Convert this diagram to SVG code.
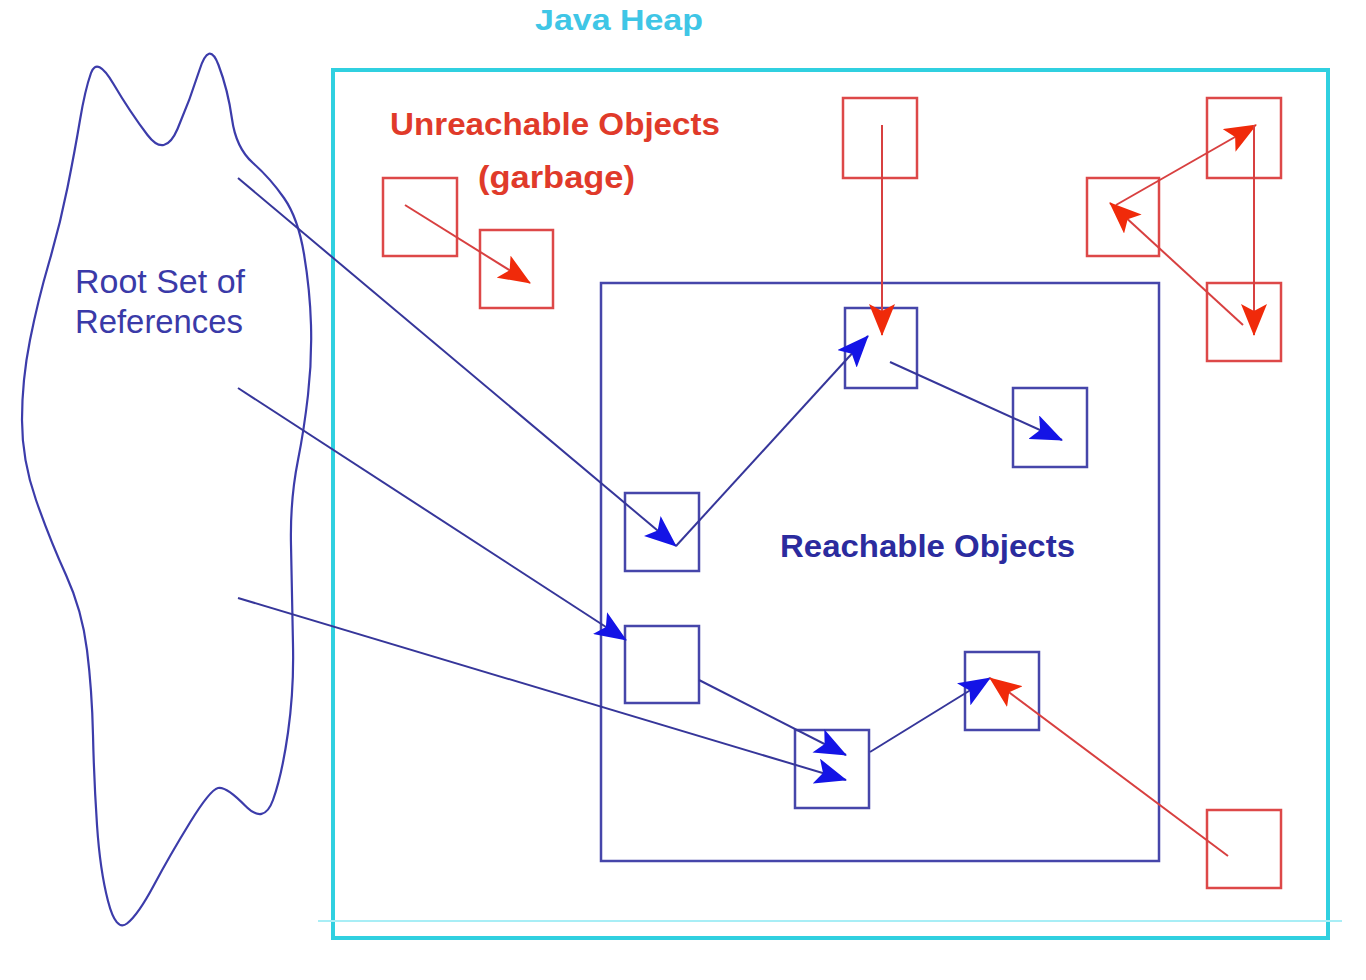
<svg xmlns="http://www.w3.org/2000/svg" width="1366" height="980" viewBox="0 0 1366 980">
<style>
.rbox{fill:none;stroke:#dd4848;stroke-width:2.5}
.bbox{fill:none;stroke:#4646aa;stroke-width:2.5}
.bl{stroke:#36369a;stroke-width:2;fill:none}
.rl{stroke:#d84040;stroke-width:2;fill:none}
.t{font-family:"Liberation Sans",Arial,sans-serif}
</style>
<defs>
<marker id="ab" viewBox="0 0 32 26" refX="31" refY="13" markerWidth="32" markerHeight="26" markerUnits="userSpaceOnUse" orient="auto"><path d="M0,0 L32,13 L0,26 L7,13 z" fill="#1414e6"/></marker>
<marker id="ar" viewBox="0 0 32 26" refX="31" refY="13" markerWidth="32" markerHeight="26" markerUnits="userSpaceOnUse" orient="auto"><path d="M0,0 L32,13 L0,26 L7,13 z" fill="#f02a0a"/></marker>
</defs>
<rect width="1366" height="980" fill="#ffffff"/>

<g id="heap">
<rect x="333" y="70" width="995" height="868" fill="none" stroke="#30d0e0" stroke-width="4"/>
<line x1="318" y1="921" x2="1342" y2="921" stroke="#a8eef6" stroke-width="2"/>
<text class="t" x="535" y="30" font-size="30" font-weight="bold" fill="#3fc6e6" textLength="168" lengthAdjust="spacingAndGlyphs">Java Heap</text>
</g>

<g id="root-set">
<path d="M 91,73 Q 97,56 113.5,84 Q 130,112 147.5,135 Q 165,158 177.5,129 Q 190,100 199.5,70 Q 209,40 218.5,65 Q 228,90 232,119 Q 236,148 253,163 Q 270,178 284,198 Q 298,218 304,254 Q 310,290 311,325 Q 312,360 308,395 Q 304,430 298,460 Q 290,500 291,545 Q 292,600 293,645 Q 294,690 288,732.5 Q 282,775 273,800 Q 264,825 245,805.5 Q 226,786 218,788 Q 210,790 190,822.5 Q 170,855 154,885 Q 138,915 127,923.5 Q 116,932 108,901 Q 100,870 97,825 Q 94,780 93,735 Q 92,690 87,650 Q 82,610 66,575 Q 50,540 36,500 Q 22,460 22,420 Q 22,380 30,340 Q 38,300 49,262.5 Q 60,225 67.5,187.5 Q 75,150 80,120 Q 85,90 91,73 Z" fill="none" stroke="#3c3caa" stroke-width="2.2"/>
<text class="t" x="75" y="293" font-size="33" fill="#3a3aa8" textLength="170" lengthAdjust="spacingAndGlyphs">Root Set of</text>
<text class="t" x="75" y="333" font-size="33" fill="#3a3aa8" textLength="168" lengthAdjust="spacingAndGlyphs">References</text>
</g>

<g id="unreachable-label">
<text class="t" x="390" y="135" font-size="32" font-weight="bold" fill="#e03a2a" textLength="330" lengthAdjust="spacingAndGlyphs">Unreachable Objects</text>
<text class="t" x="478" y="188" font-size="32" font-weight="bold" fill="#e03a2a" textLength="157" lengthAdjust="spacingAndGlyphs">(garbage)</text>
</g>

<g id="reachable">
<rect class="bbox" x="601" y="283" width="558" height="578"/>
<text class="t" x="780" y="557" font-size="32" font-weight="bold" fill="#2b2b9e" textLength="295" lengthAdjust="spacingAndGlyphs">Reachable Objects</text>
</g>

<g id="r1"><rect class="rbox" x="383" y="178" width="74" height="78"/></g>
<g id="r2"><rect class="rbox" x="480" y="230" width="73" height="78"/></g>
<g id="r3"><rect class="rbox" x="843" y="98" width="74" height="80"/></g>
<g id="r4"><rect class="rbox" x="1207" y="98" width="74" height="80"/></g>
<g id="r5"><rect class="rbox" x="1087" y="178" width="72" height="78"/></g>
<g id="r6"><rect class="rbox" x="1207" y="283" width="74" height="78"/></g>
<g id="r7"><rect class="rbox" x="1207" y="810" width="74" height="78"/></g>

<g id="b1"><rect class="bbox" x="845" y="308" width="72" height="80"/></g>
<g id="b2"><rect class="bbox" x="1013" y="388" width="74" height="79"/></g>
<g id="b3"><rect class="bbox" x="625" y="493" width="74" height="78"/></g>
<g id="b4"><rect class="bbox" x="625" y="626" width="74" height="77"/></g>
<g id="b5"><rect class="bbox" x="795" y="730" width="74" height="78"/></g>
<g id="b6"><rect class="bbox" x="965" y="652" width="74" height="78"/></g>

<g id="connectors">
<line class="bl" x1="238" y1="178" x2="676" y2="546" marker-end="url(#ab)"/>
<line class="bl" x1="238" y1="388" x2="626" y2="640" marker-end="url(#ab)"/>
<line class="bl" x1="238" y1="598" x2="846" y2="780" marker-end="url(#ab)"/>
<line class="bl" x1="676" y1="546" x2="868" y2="336" marker-end="url(#ab)"/>
<line class="bl" x1="890" y1="362" x2="1062" y2="440" marker-end="url(#ab)"/>
<line class="bl" x1="699" y1="680" x2="846" y2="755" marker-end="url(#ab)"/>
<line class="bl" x1="870" y1="752" x2="990" y2="678" marker-end="url(#ab)"/>
<line class="rl" x1="405" y1="205" x2="530" y2="283" marker-end="url(#ar)"/>
<line class="rl" x1="882" y1="125" x2="882" y2="335" marker-end="url(#ar)"/>
<line class="rl" x1="1116" y1="205" x2="1256" y2="125" marker-end="url(#ar)"/>
<line class="rl" x1="1254" y1="125" x2="1254" y2="335" marker-end="url(#ar)"/>
<line class="rl" x1="1243" y1="325" x2="1110" y2="203" marker-end="url(#ar)"/>
<line class="rl" x1="1228" y1="856" x2="990" y2="678" marker-end="url(#ar)"/>
</g>
</svg>
